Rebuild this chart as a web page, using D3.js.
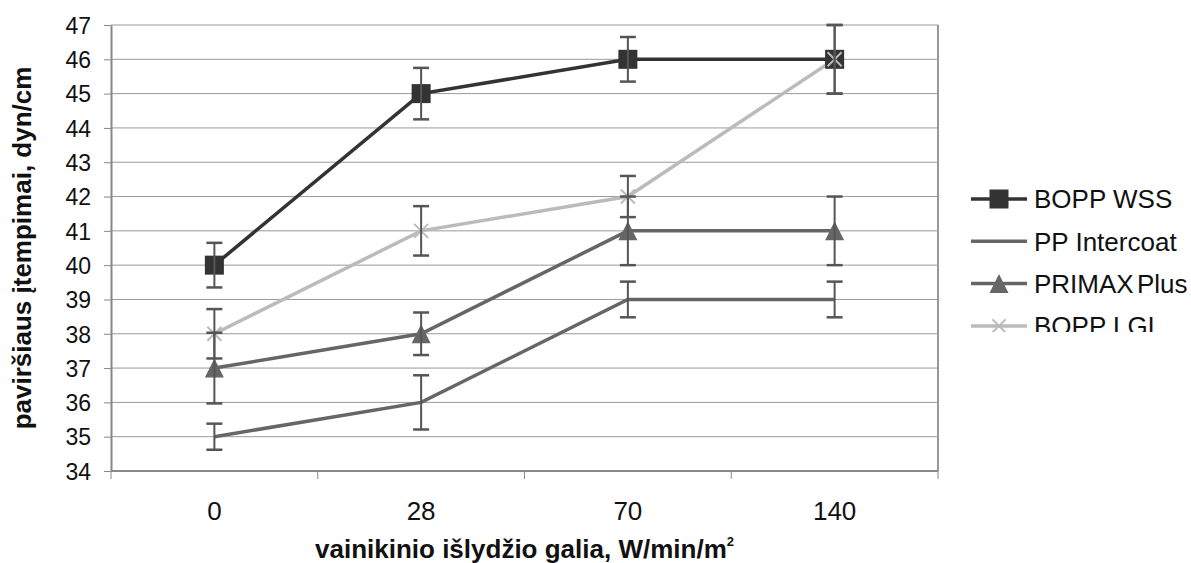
<!DOCTYPE html>
<html>
<head>
<meta charset="utf-8">
<script src="https://cdn.jsdelivr.net/npm/d3@7"></script>
<style>
  body { margin: 0; background: #fff; }
  text { font-family: "Liberation Sans", Arial, sans-serif; fill: #111; }
</style>
</head>
<body>
<div id="chart"></div>
<script>
// categories and series
const categories = ["0", "28", "70", "140"];
const yTicks = [34, 35, 36, 37, 38, 39, 40, 41, 42, 43, 44, 45, 46, 47];

const bopp_wss = [40, 45, 46, 46];
const bopp_wss_err = [0.65, 0.75, 0.65, 1.0];
const pp_intercoat = [35, 36, 39, 39];
const pp_intercoat_err = [0.38, 0.79, 0.52, 0.52];
const primax_plus = [37, 38, 41, 41];
const primax_plus_err = [1.03, 0.62, 1.0, 1.0];
const bopp_lgl = [38, 41, 42, 46];
const bopp_lgl_err = [0.72, 0.72, 0.6, 1.0];

const series = [
    {name: "BOPP WSS", values: bopp_wss, err: bopp_wss_err, color: "#333", marker: "square"},
    {name: "PP Intercoat", values: pp_intercoat, err: pp_intercoat_err, color: "#666", marker: "none"},
    {name: "PRIMAX Plus", values: primax_plus, err: primax_plus_err, color: "#666", marker: "triangle"},
    {name: "BOPP LGL", values: bopp_lgl, err: bopp_lgl_err, color: "#bbb", marker: "cross"}
];

const width = 1191, height = 563;
const margin = {left: 111, right: 253, top: 25, bottom: 92};
const plotW = width - margin.left - margin.right;
const plotH = height - margin.top - margin.bottom;

let svg = d3.select("#chart")
    .append("svg")
    .attr("width", width)
    .attr("height", height);

let g = svg.append("g")
    .attr("transform", `translate(${margin.left}, ${margin.top})`);

let x = d3.scaleBand().domain(categories).range([0, plotW]);
let y = d3.scaleLinear().domain([34, 47]).range([plotH, 0]);
const cx = function(i) { return x(categories[i]) + x.bandwidth() / 2; };

// gridlines
g.append("g")
    .selectAll("line")
    .data(yTicks)
    .enter()
    .append("line")
    .attr("x1", 0).attr("x2", plotW)
    .attr("y1", d => y(d)).attr("y2", d => y(d))
    .attr("stroke", "#999")
    .attr("stroke-width", 1);

// right border
g.append("line")
    .attr("x1", plotW).attr("x2", plotW)
    .attr("y1", 0).attr("y2", plotH)
    .attr("stroke", "#999").attr("stroke-width", 2);

// y axis
let yAxis = g.append("g")
    .call(d3.axisLeft(y).tickValues(yTicks).tickSize(7).tickSizeOuter(0).tickPadding(13));
yAxis.select(".domain").attr("stroke", "#888").attr("stroke-width", 2);
yAxis.selectAll(".tick line").attr("stroke", "#888");
yAxis.selectAll("text").style("font-size", "23px").attr("dy", "0.36em");

// x axis with ticks at band edges
let xAxis = g.append("g")
    .attr("transform", `translate(0, ${plotH})`);
xAxis.append("line")
    .attr("x1", 0).attr("x2", plotW)
    .attr("stroke", "#888").attr("stroke-width", 2);
xAxis.selectAll(".edge")
    .data(categories.concat([""]))
    .enter()
    .append("line")
    .attr("class", "edge")
    .attr("x1", (d, i) => i * x.bandwidth())
    .attr("x2", (d, i) => i * x.bandwidth())
    .attr("y1", 0).attr("y2", 8)
    .attr("stroke", "#888");
xAxis.selectAll("text")
    .data(categories)
    .enter()
    .append("text")
    .attr("x", (d, i) => cx(i))
    .attr("y", 49)
    .attr("text-anchor", "middle")
    .style("font-size", "26px")
    .text(d => d);

// axis titles
let xt = svg.append("text")
    .attr("x", margin.left + plotW / 2)
    .attr("y", 558)
    .attr("text-anchor", "middle")
    .style("font-size", "26px")
    .style("font-weight", "bold");
xt.append("tspan").text("vainikinio išlydžio galia, W/min/m");
xt.append("tspan").attr("dy", -12).style("font-size", "13px").text("2");

svg.append("text")
    .attr("transform", `translate(31, 248) rotate(-90)`)
    .attr("text-anchor", "middle")
    .style("font-size", "26px")
    .style("font-weight", "bold")
    .text("paviršiaus įtempimai, dyn/cm");

// lines
let line = d3.line()
    .x((d, i) => cx(i))
    .y(d => y(d));

g.append("g")
    .selectAll("path")
    .data(series)
    .enter()
    .append("path")
    .attr("d", d => line(d.values))
    .attr("fill", "none")
    .attr("stroke", d => d.color)
    .attr("stroke-width", 3.5);

// markers
function drawMarker(sel, type, color, size) {
    if (type === "square") {
        sel.append("rect")
            .attr("x", -size / 2).attr("y", -size / 2)
            .attr("width", size).attr("height", size)
            .attr("fill", color);
    } else if (type === "triangle") {
        sel.append("path")
            .attr("d", `M0,${-size / 2}L${size / 2},${size / 2}L${-size / 2},${size / 2}Z`)
            .attr("fill", color);
    } else if (type === "cross") {
        let h = size / 2;
        sel.append("path")
            .attr("d", `M${-h},${-h}L${h},${h}M${-h},${h}L${h},${-h}`)
            .attr("stroke", color)
            .attr("stroke-width", 2);
    }
}

series.forEach(function(s) {
    s.values.forEach(function(v, i) {
        let m = g.append("g").attr("transform", `translate(${cx(i)}, ${y(v)})`);
        drawMarker(m, s.marker, s.color, s.marker === "cross" ? 14 : 19);
    });
});

// error bars
let errG = g.append("g");
series.forEach(function(s) {
    s.values.forEach(function(v, i) {
        let e = s.err[i];
        let px = cx(i);
        errG.append("line")
            .attr("x1", px).attr("x2", px)
            .attr("y1", y(v - e)).attr("y2", y(v + e))
            .attr("stroke", "#555").attr("stroke-width", 2);
        [v - e, v + e].forEach(function(c) {
            errG.append("line")
                .attr("x1", px - 8).attr("x2", px + 8)
                .attr("y1", y(c)).attr("y2", y(c))
                .attr("stroke", "#555").attr("stroke-width", 2.5);
        });
    });
});

// legend (the last row is cut off in the original)
svg.append("clipPath").attr("id", "legclip")
    .append("rect").attr("x", 960).attr("y", 170).attr("width", 231).attr("height", 162);

let legend = svg.append("g").attr("clip-path", "url(#legclip)");
series.forEach(function(s, i) {
    let ly = 199 + i * 42.3;
    let row = legend.append("g").attr("transform", `translate(971, ${ly})`);
    row.append("line")
        .attr("x1", 0).attr("x2", 56)
        .attr("stroke", s.color).attr("stroke-width", 3.5);
    let m = row.append("g").attr("transform", "translate(28, 0)");
    drawMarker(m, s.marker, s.color, s.marker === "cross" ? 13 : 19);
    row.append("text")
        .attr("x", 63)
        .attr("y", 0)
        .attr("dy", "0.36em")
        .style("font-size", "26px")
        .style("word-spacing", s.name === "PRIMAX Plus" ? "-4px" : "0px")
        .text(s.name);
});
</script>
</body>
</html>
